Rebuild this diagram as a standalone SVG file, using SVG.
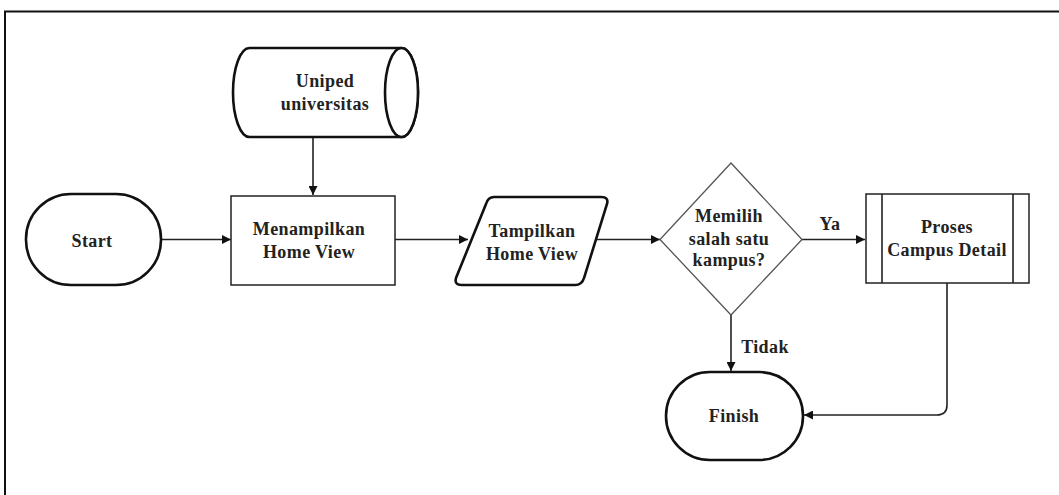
<svg xmlns="http://www.w3.org/2000/svg" width="1059" height="495" viewBox="0 0 1059 495">
  <defs>
    <marker id="arrow" viewBox="0 0 10 10" refX="10" refY="5" markerWidth="10" markerHeight="9" markerUnits="userSpaceOnUse" orient="auto">
      <path d="M0,0 L10,5 L0,10 Z" fill="#111"/>
    </marker>
    <style>
      .lbl { font-family: "Liberation Serif", "Times New Roman", serif; font-weight: bold; font-size: 18px; letter-spacing: 0.4px; fill: #222; text-anchor: middle; }
      .edge { fill: none; stroke: #222; stroke-width: 1.6; }
      .thick { fill: #fff; stroke: #111; stroke-width: 2.6; }
      .thin { fill: #fff; stroke: #222; stroke-width: 1.5; }
    </style>
  </defs>

  <rect width="1059" height="495" fill="#fff"/>
  <!-- frame -->
  <path d="M5,495 L5,11.5 L1059,11.5" fill="none" stroke="#111" stroke-width="2"/>

  <!-- connectors -->
  <g id="connectors">
    <path class="edge" d="M313,137 L313,195" marker-end="url(#arrow)"/>
    <path class="edge" d="M161,239.5 L231,239.5" marker-end="url(#arrow)"/>
    <path class="edge" d="M395,239.5 L468,239.5" marker-end="url(#arrow)"/>
    <path class="edge" d="M597,239.5 L660,239.5" marker-end="url(#arrow)"/>
    <path class="edge" d="M802,239.5 L865,239.5" marker-end="url(#arrow)"/>
    <path class="edge" d="M731,315 L731,371" marker-end="url(#arrow)"/>
    <path class="edge" d="M947,283 L947,405 Q947,415 937,415 L804,415" marker-end="url(#arrow)"/>
    <text class="lbl" x="830" y="230">Ya</text>
    <text class="lbl" x="765" y="353">Tidak</text>
  </g>

  <!-- data store -->
  <g id="uniped">
    <path class="thick" d="M249.5,48 L401.5,48 A16.5,44.5 0 0 1 401.5,137 L249.5,137 A16.5,44.5 0 0 1 249.5,48 Z"/>
    <ellipse class="thick" cx="401.5" cy="92.5" rx="16.5" ry="44.5"/>
    <text class="lbl" x="325" y="87">Uniped</text>
    <text class="lbl" x="325" y="110">universitas</text>
  </g>

  <g id="start">
    <rect class="thick" x="26" y="194" width="135" height="91" rx="45" ry="45"/>
    <text class="lbl" x="92" y="247">Start</text>
  </g>

  <g id="menampilkan">
    <rect class="thin" x="231" y="196" width="164" height="89"/>
    <text class="lbl" x="309" y="235">Menampilkan</text>
    <text class="lbl" x="309" y="258">Home View</text>
  </g>

  <g id="tampilkan">
    <path class="thick" d="M494,197 L601,197 Q609,197 607,204 L584,278 Q582,285 575,285 L462,285 Q454,285 456,278 L486,204 Q488,197 494,197 Z"/>
    <text class="lbl" x="532" y="237">Tampilkan</text>
    <text class="lbl" x="532" y="260">Home View</text>
  </g>

  <g id="memilih">
    <path d="M731,163 L802,239.5 L731,315 L660,239.5 Z" fill="#fff" stroke="#555" stroke-width="1.3"/>
    <text class="lbl" x="729" y="222">Memilih</text>
    <text class="lbl" x="729" y="245">salah satu</text>
    <text class="lbl" x="729" y="266">kampus?</text>
  </g>

  <g id="proses">
    <rect class="thin" x="866" y="194" width="163" height="89"/>
    <path class="edge" d="M882,194 L882,283 M1013,194 L1013,283"/>
    <text class="lbl" x="947" y="233">Proses</text>
    <text class="lbl" x="947" y="256">Campus Detail</text>
  </g>

  <g id="finish">
    <rect class="thick" x="666" y="372" width="137" height="88" rx="44" ry="44"/>
    <text class="lbl" x="734" y="422">Finish</text>
  </g>
</svg>
